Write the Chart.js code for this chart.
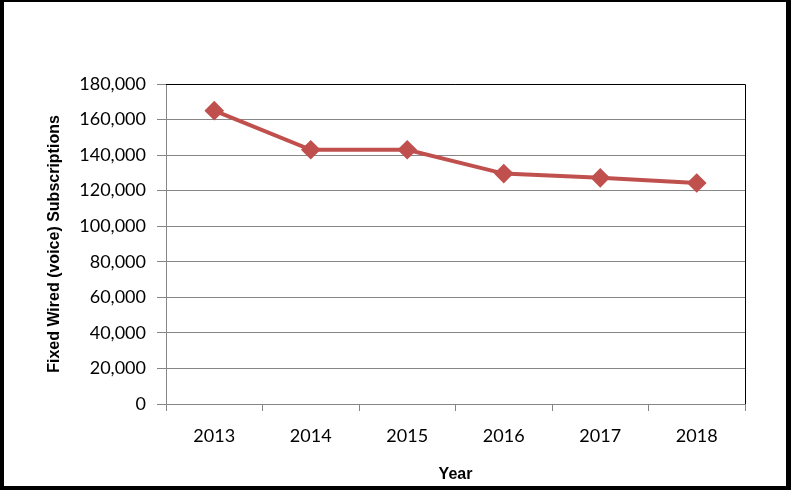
<!DOCTYPE html>
<html>
<head>
<meta charset="utf-8">
<script src="https://cdn.jsdelivr.net/npm/chart.js@4"></script>
<style>
  html, body { margin: 0; padding: 0; background: #fff; }
  #wrap { position: relative; width: 791px; height: 490px; }
</style>
</head>
<body>
<div id="wrap"><canvas id="c" width="791" height="490"></canvas></div>
<script>
const years = ['2013', '2014', '2015', '2016', '2017', '2018'];
const subscriptions = [165000, 143000, 143000, 129600, 127200, 124300];
const yMin = 0, yMax = 180000, yStep = 20000;
const yTitle = 'Fixed Wired (voice) Subscriptions';
const xTitle = 'Year';

const frame = {
  id: 'frame',
  afterDraw(chart) {
    const ctx = chart.ctx, a = chart.chartArea;
    ctx.save();
    ctx.strokeStyle = '#000';
    ctx.lineWidth = 1;
    ctx.beginPath();
    ctx.moveTo(a.left, a.top + 0.5);
    ctx.lineTo(a.right + 0.5, a.top + 0.5);
    ctx.lineTo(a.right + 0.5, a.bottom);
    ctx.stroke();
    ctx.fillStyle = '#000';
    const W = chart.width, H = chart.height;
    ctx.fillRect(0, 0, W, 2);
    ctx.fillRect(0, 0, 4, H);
    ctx.fillRect(W - 5, 0, 5, H);
    ctx.fillRect(0, H - 4, W, 4);
    ctx.restore();
  }
};

new Chart(document.getElementById('c'), {
  type: 'line',
  data: {
    labels: years,
    datasets: [{
      data: subscriptions,
      borderColor: '#C0504D',
      backgroundColor: '#C0504D',
      borderWidth: 4,
      pointStyle: 'rectRot',
      pointRadius: 7,
      pointHoverRadius: 7,
      tension: 0
    }]
  },
  options: {
    responsive: false,
    animation: false,
    events: [],
    layout: { padding: { left: 45, top: 84, right: 46, bottom: 6 } },
    plugins: { legend: { display: false }, tooltip: { enabled: false } },
    scales: {
      x: {
        offset: true,
        grid: { offset: true, drawOnChartArea: false, drawTicks: true, tickLength: 7, color: '#868686' },
        border: { color: '#868686' },
        ticks: { font: { family: 'Lato', size: 18 }, color: '#000', padding: 14 },
        title: { display: true, text: xTitle, font: { family: 'Liberation Sans', size: 16, weight: 'bold' }, color: '#000', padding: 0 },
        afterFit(s) { s.height = 80; }
      },
      y: {
        min: yMin, max: yMax,
        ticks: {
          stepSize: yStep,
          font: { family: 'Lato', size: 18 }, color: '#000', padding: 11,
          callback: v => v.toLocaleString('en-US')
        },
        grid: { color: '#868686', tickLength: 9 },
        border: { color: '#868686' },
        title: { display: true, text: yTitle, font: { family: 'Liberation Sans', size: 16, weight: 'bold' }, color: '#000', padding: 0 },
        afterFit(s) { s.width = 121; }
      }
    }
  },
  plugins: [frame]
});
</script>
</body>
</html>
